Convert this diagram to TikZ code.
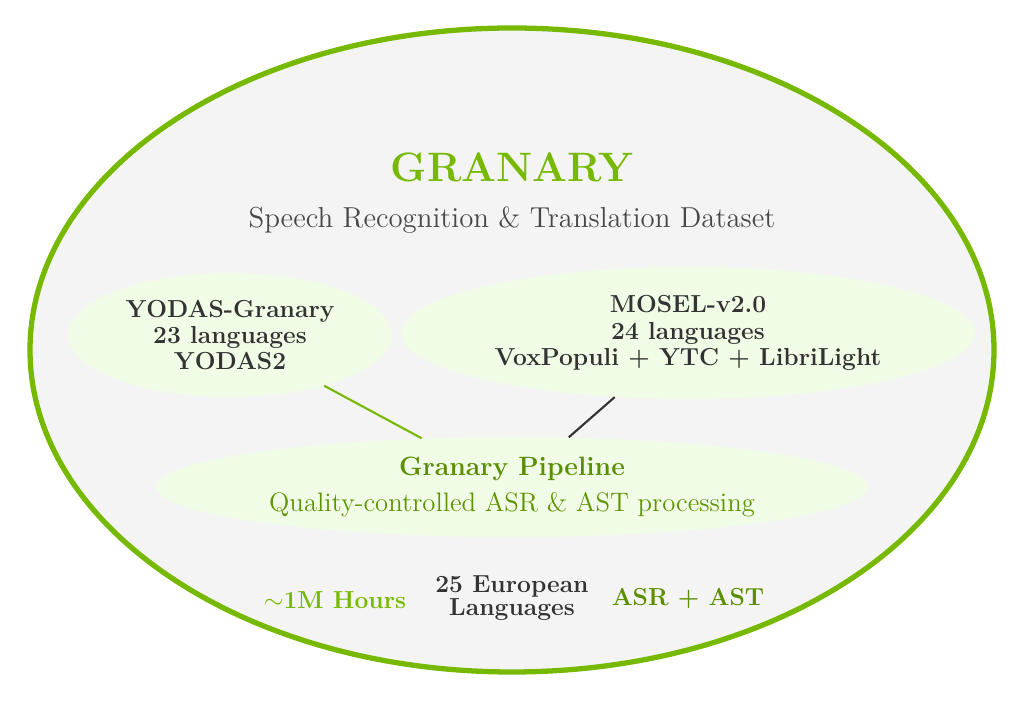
\documentclass[tikz,border=0pt]{standalone}
\usepackage{graphicx}
\usetikzlibrary{shapes.geometric}
\definecolor{nvgreen}{HTML}{76B900}
\definecolor{darkgreen}{HTML}{5B8E00}
\definecolor{textgray}{HTML}{333333}
\definecolor{bggray}{HTML}{F4F4F4}
\definecolor{palegreen}{HTML}{F0FCE6}
\begin{document}
\begin{tikzpicture}[every node/.style={font=\rmfamily, align=center},
                source/.style={ellipse, fill=palegreen, inner sep=0pt, text=textgray, font=\fontsize{14}{15}\selectfont\bfseries},
                stat/.style={font=\fontsize{14}{10}\selectfont\bfseries}]

        \useasboundingbox (0,0) rectangle (20.48,14.06);

        % Outer frame
        \node[ellipse, draw=nvgreen, line width=3pt, fill=bggray, minimum width=19.28cm, minimum height=12.88cm] (frame) at (10.24,7.06) {};

        % Title
        \node[text=nvgreen, font=\fontsize{23.4}{28}\selectfont\bfseries] (title) at (10.24,10.72) {GRANARY};
        \node[text=textgray!90, font=\Large] (subtitle) at (10.24,9.66) {\scalebox{1.14}{Speech Recognition \& Translation Dataset}};

        % Define nodes
        \node[source, minimum width=6.48cm, minimum height=2.48cm] (yodas) at (4.6,7.36) {YODAS-Granary\\23 languages\\YODAS2}; % Source 1
        \node[source, minimum width=11.48cm, minimum height=2.64cm] (mosel) at (13.76,7.40) {MOSEL-v2.0\\24 languages\\VoxPopuli + YTC + LibriLight}; % Source 2
        \node[source, minimum width=14.24cm, minimum height=2.0cm, text=darkgreen, font=\Large] (pipeline) at (10.24,4.32) {{\fontsize{15.1}{17}\selectfont\bfseries Granary Pipeline}\\[2pt]{\color{darkgreen!85!nvgreen}\scalebox{1.055}{Quality-controlled ASR \& AST processing}}}; % Pipeline

        % Statistics
        \node[stat, text=nvgreen] (hours) at (6.70,2.06) {$\sim$1M Hours};
        \node[stat, text=textgray] (langs) at (10.24,2.10) {25 European\\Languages};
        \node[stat, text=darkgreen] (tasks) at (13.76,2.10) {ASR + AST};

        % Define edges
        \path (yodas) edge[draw=nvgreen, line width=1.2pt] (pipeline);
        \path (mosel) edge[draw=textgray, line width=1.2pt] (pipeline);
\end{tikzpicture}
\end{document}
